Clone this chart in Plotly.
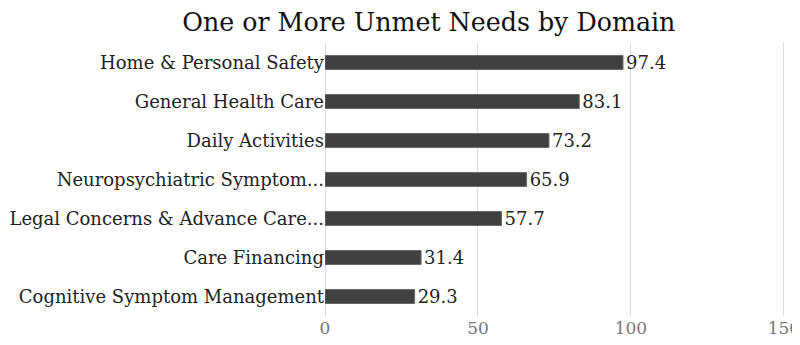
import plotly.graph_objects as go

categories = ["Home & Personal Safety", "General Health Care", "Daily Activities",
              "Neuropsychiatric Symptom...", "Legal Concerns & Advance Care...",
              "Care Financing", "Cognitive Symptom Management"]
values = [97.4, 83.1, 73.2, 65.9, 57.7, 31.4, 29.3]
x_ticks = [0, 50, 100, 150]

font_family = "DejaVu Serif"

fig = go.Figure(go.Bar(
    x=values, y=categories, orientation="h",
    marker=dict(color="#404040", line=dict(color="#6a6a6a", width=1)),
    width=0.36,
    text=[f"{v:.1f}" for v in values], textposition="outside",
    constraintext="none",
    textfont=dict(family=font_family, size=18, color="#222222"),
    cliponaxis=False,
))

# the page places the figure 8px from the top-left corner, so margins are offset by 8px
fig.update_layout(
    width=792, height=345,
    margin=dict(l=317, r=13, t=35, b=37, autoexpand=False),
    paper_bgcolor="white", plot_bgcolor="white",
    title=dict(text="One or More Unmet Needs by Domain", x=0.5313, xanchor="center",
               y=0.9587, yanchor="middle",
               font=dict(family=font_family, size=25.3, color="#111111")),
    showlegend=False,
)
fig.update_xaxes(range=[0, 151], tickvals=x_ticks, showgrid=True, gridcolor="#dddddd",
                 gridwidth=1, zeroline=True, zerolinecolor="#dddddd", zerolinewidth=1,
                 showline=False, automargin=False, ticklabeloverflow="allow",
                 tickfont=dict(family=font_family, size=17, color="#777777"))
fig.update_yaxes(autorange="reversed", showgrid=False, showline=False, ticks="",
                 ticklabelstandoff=0, automargin=False,
                 tickfont=dict(family=font_family, size=18, color="#222222"))

fig.write_html("out.html")
